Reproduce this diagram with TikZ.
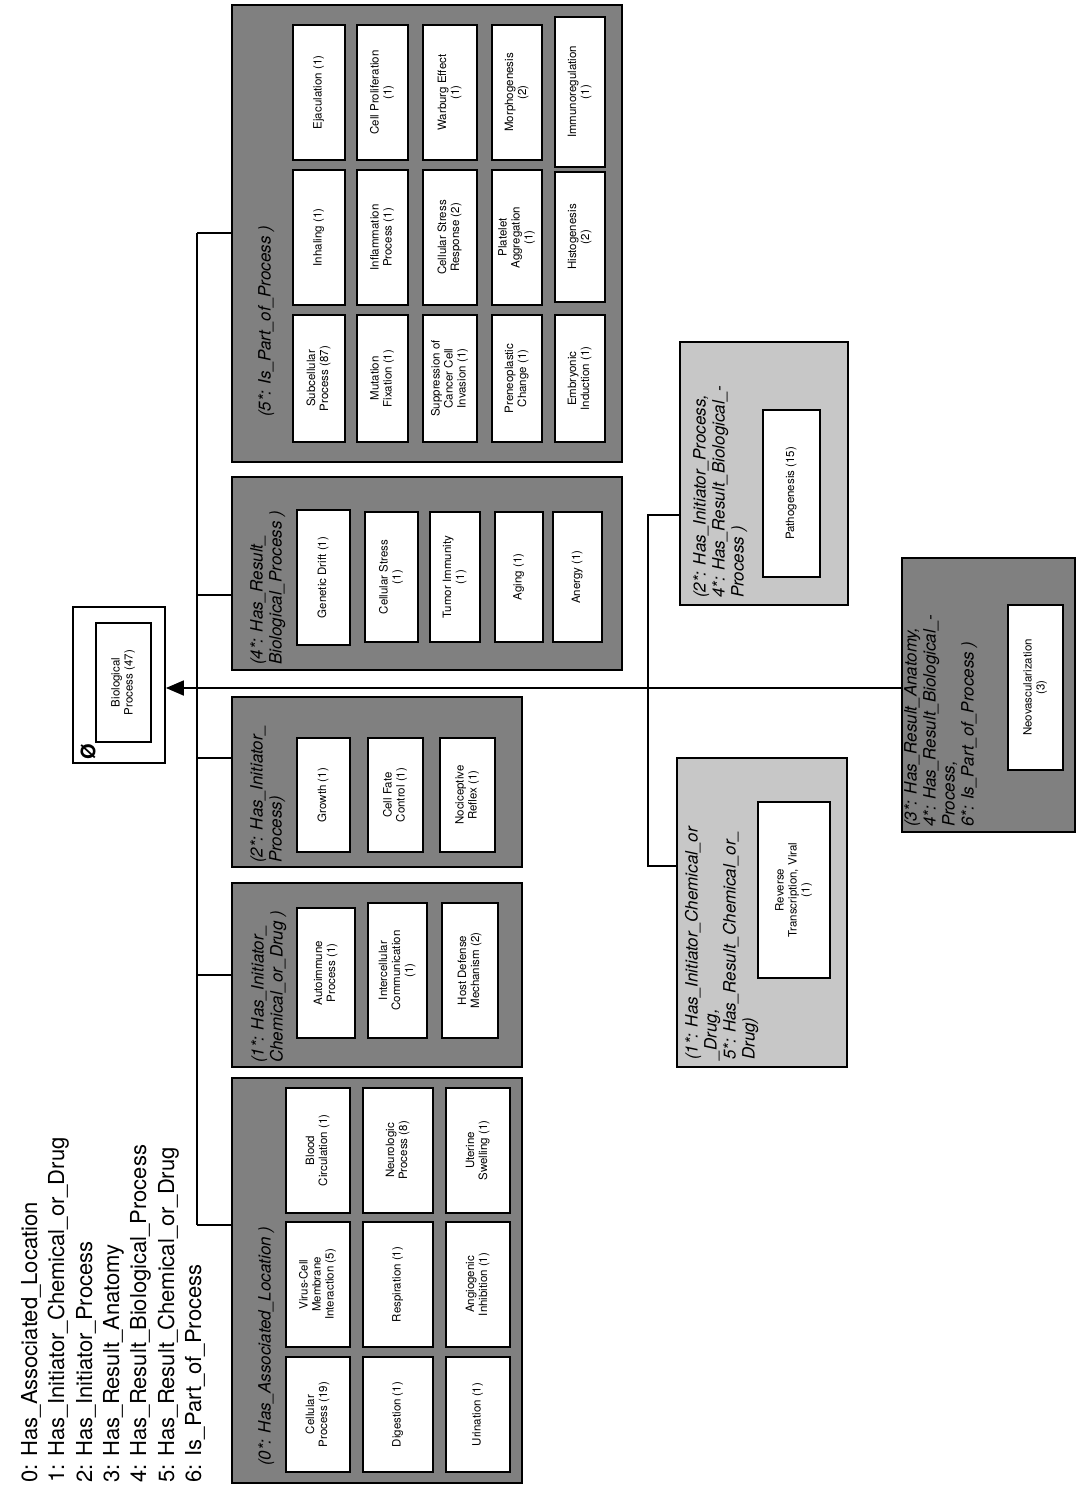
\documentclass[tikz,border=0pt]{standalone}
\usepackage{fontspec}
\setmainfont{TeX Gyre Heros}
\usetikzlibrary{arrows.meta}
\newcommand\bxfont{\fontsize{11.5}{13}\selectfont}
\newcommand\ttlfont{\fontsize{17}{19}\selectfont\itshape}
\newcommand\rt[1]{\rotatebox{90}{\begin{tabular}{@{}c@{}}#1\end{tabular}}}
\newcommand\rtl[1]{\rotatebox{90}{\begin{tabular}{@{}l@{}}#1\end{tabular}}}
\newcommand\BX[7]{%
 \pgfmathsetmacro\bxcx{(#3+#5)/2}%
 \pgfmathsetmacro\bxcy{(#4+#6)/2}%
 \pgfmathsetmacro\bxww{#5-#3}%
 \pgfmathsetmacro\bxhh{#6-#4}%
 \node[#1, minimum width=\bxww pt, minimum height=\bxhh pt] (#2) at (\bxcx,\bxcy) {#7};}
\tikzset{
 grp/.style={draw, line width=2.6pt, fill=black!50, inner sep=0pt},
 lgrp/.style={draw, line width=2.6pt, fill=black!22, inner sep=0pt},
 ibox/.style={draw, line width=2pt, fill=white, inner sep=0pt, font=\bxfont},
 rootbox/.style={draw, line width=1.8pt, fill=white, inner sep=0pt},
 ttl/.style={inner sep=0pt, anchor=south west, font=\ttlfont},
 leg/.style={rotate=90, anchor=base west, inner sep=0pt, font=\fontsize{22}{26}\selectfont},
 conn/.style={line width=1.8pt},
}
\begin{document}
\begin{tikzpicture}[x=1pt,y=-1pt]
\useasboundingbox (0,0) rectangle (1080,1491);
% legend
\node[leg] (l0) at (37,1483) {0: Has\_Associated\_Location};
\node[leg] (l1) at (64,1483) {1: Has\_Initiator\_Chemical\_or\_Drug};
\node[leg] (l2) at (92,1483) {2: Has\_Initiator\_Process};
\node[leg] (l3) at (119,1483) {3: Has\_Result\_Anatomy};
\node[leg] (l4) at (146,1483) {4: Has\_Result\_Biological\_Process};
\node[leg] (l5) at (174,1483) {5: Has\_Result\_Chemical\_or\_Drug};
\node[leg] (l6) at (201,1483) {6: Is\_Part\_of\_Process};
% root
\BX{rootbox}{root}{73}{607}{165}{763}{}
\BX{ibox}{bp}{96}{623}{151}{742}{\rt{Biological\\Process (47)}}
\node[rotate=90, inner sep=0pt, font=\fontsize{20}{22}\selectfont\bfseries] (phi) at (88,752) {Ø};
% group 5
\BX{grp}{g5}{232}{5}{622}{462}{}
\node[ttl] (t5) at (257,417) {\rtl{(5*: Is\_Part\_of\_Process )}};
\BX{ibox}{b51}{293}{315}{345}{442}{\rt{Subcellular\\Process (87)}}
\BX{ibox}{b52}{293}{170}{345}{305}{\rt{Inhaling (1)}}
\BX{ibox}{b53}{293}{25}{345}{160}{\rt{Ejaculation (1)}}
\BX{ibox}{b54}{357}{315}{408}{442}{\rt{Mutation\\Fixation (1)}}
\BX{ibox}{b55}{357}{170}{408}{305}{\rt{Inflammation\\Process (1)}}
\BX{ibox}{b56}{357}{25}{408}{160}{\rt{Cell Proliferation\\(1)}}
\BX{ibox}{b57}{423}{315}{477}{442}{\rt{Suppression of\\Cancer Cell\\Invasion (1)}}
\BX{ibox}{b58}{423}{170}{477}{305}{\rt{Cellular Stress\\Response (2)}}
\BX{ibox}{b59}{423}{25}{477}{160}{\rt{Warburg Effect\\(1)}}
\BX{ibox}{b510}{492}{315}{542}{442}{\rt{Preneoplastic\\Change (1)}}
\BX{ibox}{b511}{492}{170}{542}{305}{\rt{Platelet\\Aggregation\\(1)}}
\BX{ibox}{b512}{492}{25}{542}{160}{\rt{Morphogenesis\\(2)}}
\BX{ibox}{b513}{555}{315}{605}{442}{\rt{Embryonic\\Induction (1)}}
\BX{ibox}{b514}{555}{172}{605}{302}{\rt{Histogenesis\\(2)}}
\BX{ibox}{b515}{555}{17}{605}{167}{\rt{Immunoregulation\\(1)}}
% group 4
\BX{grp}{g4}{232}{477}{622}{670}{}
\node[ttl] (t4) at (249,665) {\rtl{(4*: Has\_Result\_\\Biological\_Process )}};
\BX{ibox}{b41}{297}{510}{350}{645}{\rt{Genetic Drift (1)}}
\BX{ibox}{b42}{365}{512}{418}{642}{\rt{Cellular Stress\\(1)}}
\BX{ibox}{b43}{430}{512}{480}{642}{\rt{Tumor Immunity\\(1)}}
\BX{ibox}{b44}{495}{512}{543}{642}{\rt{Aging (1)}}
\BX{ibox}{b45}{553}{512}{602}{642}{\rt{Anergy (1)}}
% group 2
\BX{grp}{g2}{232}{697}{522}{867}{}
\node[ttl] (t2) at (249,863) {\rtl{(2*: Has\_Initiator\_\\Process)}};
\BX{ibox}{b21}{297}{738}{350}{852}{\rt{Growth (1)}}
\BX{ibox}{b22}{368}{738}{423}{852}{\rt{Cell Fate\\Control (1)}}
\BX{ibox}{b23}{440}{738}{495}{852}{\rt{Nociceptive\\Reflex (1)}}
% group 1
\BX{grp}{g1}{232}{883}{522}{1067}{}
\node[ttl] (t1) at (250,1063) {\rtl{(1*: Has\_Initiator\_\\Chemical\_or\_Drug )}};
\BX{ibox}{b11}{297}{908}{355}{1038}{\rt{Autoimmune\\Process (1)}}
\BX{ibox}{b12}{368}{903}{427}{1038}{\rt{Intercellular\\Communication\\(1)}}
\BX{ibox}{b13}{442}{903}{498}{1038}{\rt{Host Defense\\Mechanism (2)}}
% group 0
\BX{grp}{g0}{232}{1078}{522}{1483}{}
\node[ttl] (t0) at (257,1466) {\rtl{(0*: Has\_Associated\_Location )}};
\BX{ibox}{b01}{286}{1088}{350}{1213}{\rt{Blood\\Circulation (1)}}
\BX{ibox}{b02}{286}{1222}{350}{1347}{\rt{Virus-Cell\\Membrane\\Interaction (5)}}
\BX{ibox}{b03}{286}{1357}{350}{1472}{\rt{Cellular\\Process (19)}}
\BX{ibox}{b04}{363}{1088}{433}{1213}{\rt{Neurologic\\Process (8)}}
\BX{ibox}{b05}{363}{1222}{433}{1347}{\rt{Respiration (1)}}
\BX{ibox}{b06}{363}{1357}{433}{1472}{\rt{Digestion (1)}}
\BX{ibox}{b07}{446}{1088}{510}{1213}{\rt{Uterine\\Swelling (1)}}
\BX{ibox}{b08}{446}{1222}{510}{1347}{\rt{Angiogenic\\Inhibition (1)}}
\BX{ibox}{b09}{446}{1357}{510}{1472}{\rt{Urination (1)}}
% pathogenesis group
\BX{lgrp}{gP}{680}{342}{848}{605}{}
\node[ttl] (tP) at (692,598) {\rtl{(2*: Has\_Initiator\_Process,\\4*: Has\_Result\_Biological\_-\\Process )}};
\BX{ibox}{bP}{763}{410}{820}{577}{\rt{Pathogenesis (15)}}
% reverse transcription group
\BX{lgrp}{gR}{677}{758}{847}{1067}{}
\node[ttl] (tR) at (684,1060) {\rtl{(1*: Has\_Initiator\_Chemical\_or\\\_Drug,\\5*: Has\_Result\_Chemical\_or\_\\Drug)}};
\BX{ibox}{bR}{758}{802}{830}{978}{\rt{Reverse\\Transcription, Viral\\(1)}}
% neovascularization group
\BX{grp}{gN}{902}{558}{1075}{832}{}
\node[ttl] (tN) at (903,827) {\rtl{(3*: Has\_Result\_Anatomy,\\4*: Has\_Result\_Biological\_-\\Process,\\6*: Is\_Part\_of\_Process )}};
\BX{ibox}{bN}{1008}{605}{1063}{770}{\rt{Neovascularization\\(3)}}
% connectors
\coordinate (j5) at (197,233);
\coordinate (j4) at (197,595);
\coordinate (jA) at (197,688);
\coordinate (j2) at (197,758);
\coordinate (j1) at (197,975);
\coordinate (j0) at (197,1225);
\coordinate (kP) at (648,515);
\coordinate (kR) at (648,866);
\draw[conn] (j5) -- (j0);
\draw[conn] (j5) -- (j5 -| g5.west);
\draw[conn] (j4) -- (j4 -| g4.west);
\draw[conn] (j2) -- (j2 -| g2.west);
\draw[conn] (j1) -- (j1 -| g1.west);
\draw[conn] (j0) -- (j0 -| g0.west);
\draw[conn] (kP -| gP.west) -- (kP) -- (kR) -- (kR -| gR.west);
\draw[conn, -{Triangle[length=18pt,width=15pt]}] (jA -| gN.west) -- (jA -| root.east);
\end{tikzpicture}
\end{document}
